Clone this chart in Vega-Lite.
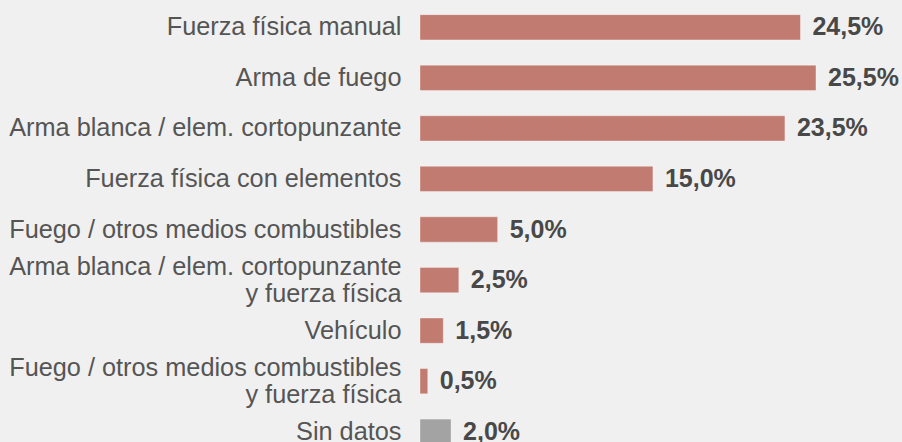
{
  "$schema": "https://vega.github.io/schema/vega-lite/v6.json",
  "width": 482,
  "height": 455,
  "autosize": {"type": "none"},
  "padding": {"left": 420, "top": 2, "right": 0, "bottom": 0},
  "background": "#f0f0f0",
  "config": {"view": {"stroke": null}, "font": "Liberation Sans"},
  "data": {
    "values": [
      {"medio": "Fuerza física manual", "pct": 24.5, "label": "24,5%"},
      {"medio": "Arma de fuego", "pct": 25.5, "label": "25,5%"},
      {"medio": "Arma blanca / elem. cortopunzante", "pct": 23.5, "label": "23,5%"},
      {"medio": "Fuerza física con elementos", "pct": 15.0, "label": "15,0%"},
      {"medio": "Fuego / otros medios combustibles", "pct": 5.0, "label": "5,0%"},
      {"medio": "Arma blanca / elem. cortopunzante|y fuerza física", "pct": 2.5, "label": "2,5%"},
      {"medio": "Vehículo", "pct": 1.5, "label": "1,5%"},
      {"medio": "Fuego / otros medios combustibles|y fuerza física", "pct": 0.5, "label": "0,5%"},
      {"medio": "Sin datos", "pct": 2.0, "label": "2,0%"}
    ]
  },
  "encoding": {
    "y": {
      "field": "medio",
      "type": "nominal",
      "sort": null,
      "scale": {"paddingInner": 0.5, "paddingOuter": 0.25},
      "axis": {
        "title": null,
        "domain": false,
        "ticks": false,
        "grid": false,
        "labelPadding": 19,
        "labelFontSize": 25.3,
        "labelColor": "#555555",
        "labelLimit": 0,
        "labelLineHeight": 27,
        "labelOffset": {"condition": {"test": "indexof(datum.label, '|') >= 0", "value": -13}, "value": 0},
        "labelExpr": "split(datum.label, '|')"
      }
    },
    "x": {
      "field": "pct",
      "type": "quantitative",
      "scale": {"domain": [0, 31.04], "nice": false},
      "axis": null
    }
  },
  "layer": [
    {
      "mark": {"type": "bar", "stroke": "#ffffff", "strokeOpacity": 0.35, "strokeWidth": 1},
      "encoding": {
        "color": {
          "condition": {"test": "datum.medio === 'Sin datos'", "value": "#a3a3a3"},
          "value": "#c17b71"
        }
      }
    },
    {
      "mark": {"type": "text", "align": "left", "baseline": "middle", "dx": 12, "fontSize": 25, "fontWeight": "bold", "color": "#484848"},
      "encoding": {"text": {"field": "label"}}
    }
  ]
}
